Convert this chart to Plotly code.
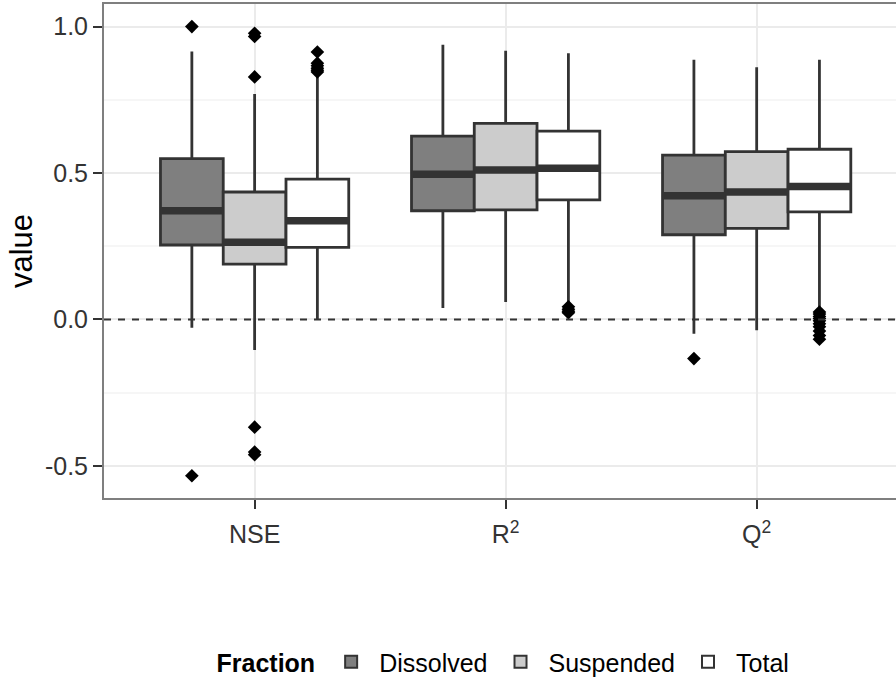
import plotly.graph_objects as go

categories = ["NSE", "R<sup>2</sup>", "Q<sup>2</sup>"]
fractions = ["Dissolved", "Suspended", "Total"]
fills = {"Dissolved": "#7f7f7f", "Suspended": "#cccccc", "Total": "#ffffff"}

# box statistics per fraction, one value per category (NSE, R2, Q2)
q1 = {
    "Dissolved": [0.254, 0.371, 0.289],
    "Suspended": [0.189, 0.374, 0.311],
    "Total": [0.246, 0.408, 0.367],
}
median = {
    "Dissolved": [0.371, 0.496, 0.422],
    "Suspended": [0.263, 0.510, 0.435],
    "Total": [0.337, 0.516, 0.454],
}
q3 = {
    "Dissolved": [0.549, 0.626, 0.561],
    "Suspended": [0.435, 0.669, 0.573],
    "Total": [0.479, 0.643, 0.581],
}
lower = {
    "Dissolved": [-0.029, 0.039, -0.049],
    "Suspended": [-0.105, 0.059, -0.037],
    "Total": [0.000, 0.050, 0.040],
}
upper = {
    "Dissolved": [0.915, 0.938, 0.887],
    "Suspended": [0.770, 0.917, 0.861],
    "Total": [0.830, 0.909, 0.887],
}
outliers = {
    "Dissolved": [[1.0, -0.534], [], [-0.134]],
    "Suspended": [[0.977, 0.966, 0.828, -0.368, -0.453, -0.462], [], []],
    "Total": [
        [0.913, 0.875, 0.866, 0.858, 0.851, 0.845],
        [0.043, 0.035, 0.028, 0.023],
        [0.025, 0.018, 0.010, 0.003, -0.005, -0.015, -0.025, -0.040, -0.055, -0.068],
    ],
}

dodge = {"Dissolved": -0.25, "Suspended": 0.0, "Total": 0.25}
box_w = 0.25
line_col = "#333333"

fig = go.Figure()
for f in fractions:
    xs = [i + dodge[f] for i in range(len(categories))]
    fig.add_trace(go.Box(
        x=xs, q1=q1[f], median=median[f], q3=q3[f],
        lowerfence=lower[f], upperfence=upper[f],
        width=box_w, name=f, fillcolor=fills[f],
        line=dict(color=line_col, width=2.8), whiskerwidth=0,
        boxpoints=False, hoverinfo="skip", legendgroup=f,
    ))
for f in fractions:
    mx, my = [], []
    for i in range(len(categories)):
        c = i + dodge[f]
        mx += [c - box_w / 2, c + box_w / 2, None]
        my += [median[f][i], median[f][i], None]
    fig.add_trace(go.Scatter(x=mx, y=my, mode="lines",
                             line=dict(color=line_col, width=7.5),
                             showlegend=False, hoverinfo="skip", legendgroup=f))
for f in fractions:
    ox, oy = [], []
    for i in range(len(categories)):
        for v in outliers[f][i]:
            ox.append(i + dodge[f])
            oy.append(v)
    fig.add_trace(go.Scatter(x=ox, y=oy, mode="markers",
                             marker=dict(symbol="diamond", size=10.5, color="black"),
                             showlegend=False, hoverinfo="skip", legendgroup=f))

fig.add_shape(type="line", xref="paper", x0=0, x1=1, yref="y", y0=0, y1=0,
              line=dict(color=line_col, width=2, dash="7px,7px"), layer="above")

font = "Liberation Sans, Arial, sans-serif"
fig.update_layout(
    width=896, height=685,
    margin=dict(l=104, r=0, t=4, b=185),
    paper_bgcolor="white", plot_bgcolor="white",
    font=dict(family=font, color="black"),
    boxmode="overlay",
    showlegend=True,
    legend=dict(orientation="h", x=0.5057, xanchor="center", y=-0.333, yanchor="middle",
                font=dict(size=25, color="black"),
                title=dict(text="<b>Fraction</b>", font=dict(size=25, color="black"), side="left"),
                itemsizing="constant", itemwidth=46, tracegroupgap=0),
    xaxis=dict(range=[-0.6, 2.555], tickmode="array",
               tickvals=list(range(len(categories))), ticktext=categories,
               showgrid=True, gridcolor="#ebebeb", gridwidth=2,
               showline=True, linecolor="#7f7f7f", linewidth=2, mirror=True,
               ticks="outside", ticklen=9, tickwidth=2, tickcolor=line_col,
               ticklabelstandoff=4,
               tickfont=dict(size=25, color="#333333"), zeroline=False),
    yaxis=dict(range=[-0.610, 1.077], tickmode="array",
               tickvals=[-0.5, 0.0, 0.5, 1.0], ticktext=["-0.5", "0.0", "0.5", "1.0"],
               showgrid=True, gridcolor="#ebebeb", gridwidth=2,
               minor=dict(tickmode="array", tickvals=[-0.25, 0.25, 0.75],
                          showgrid=True, gridcolor="#f6f6f6", gridwidth=1.5, ticks=""),
               showline=True, linecolor="#7f7f7f", linewidth=2, mirror=False,
               ticks="outside", ticklen=9, tickwidth=2, tickcolor=line_col,
               tickfont=dict(size=25, color="#333333"), zeroline=False,
               title=dict(text="value", font=dict(size=31, color="black"), standoff=3)),
)

fig.write_html("out.html")
